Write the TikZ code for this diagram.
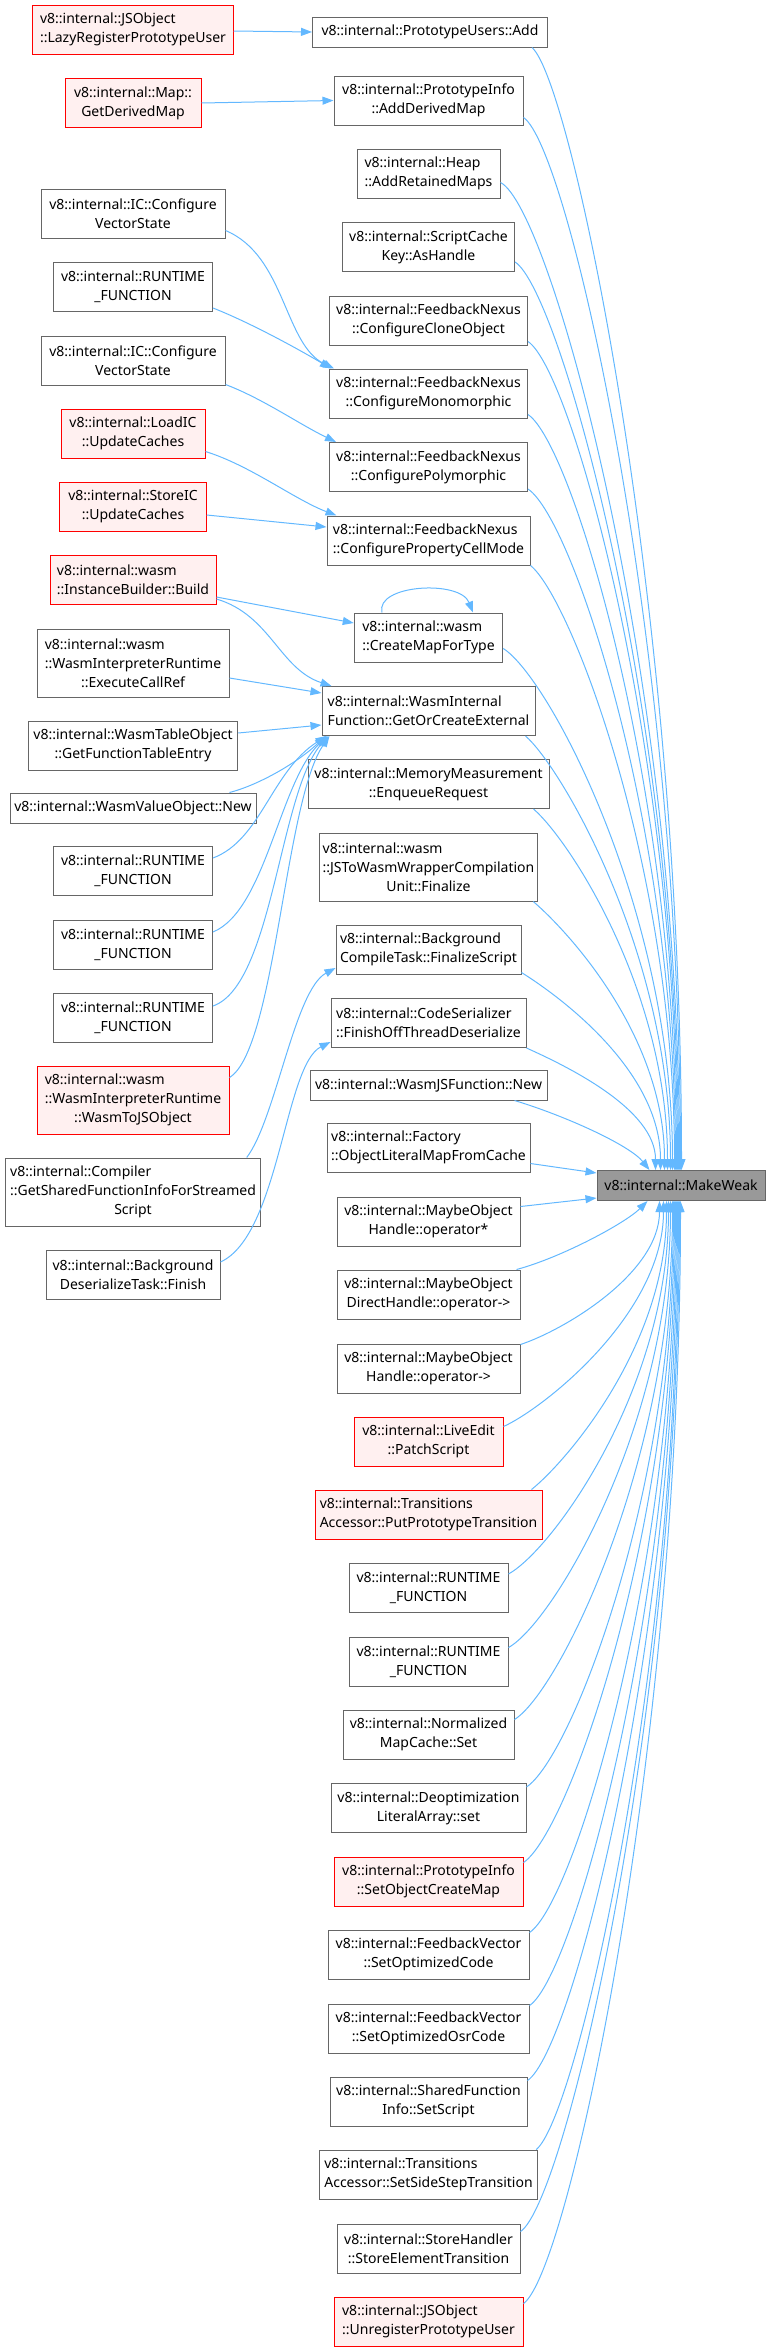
\documentclass[tikz,border=0pt]{standalone}
\usepackage{fontspec}
\setmainfont{Noto Sans}
\usetikzlibrary{arrows.meta,calc}
\definecolor{edgeblue}{HTML}{63B8FF}
\definecolor{boxgray}{HTML}{666666}
\definecolor{rootfill}{HTML}{999999}
\definecolor{redfill}{HTML}{FFF0F0}
\tikzset{
  box/.style={draw=boxgray, fill=white, line width=1pt, inner sep=0pt, align=center,
    font=\fontsize{14}{19}\selectfont},
  hl/.style={box, draw=red, fill=redfill},
  root/.style={box, fill=rootfill},
  lft/.style={align=left},
  wh/.style 2 args={minimum width=#1pt, minimum height=#2pt},
  edge/.style={draw=edgeblue, line width=1pt, -{Triangle[length=11pt,width=8pt]}},
}
\newcommand\mwe[3]{\draw[edge] let \p1=(#1), \p2=(#2), \n1={0.5*(\y1-\y2)} in (\p1) .. controls +(#3) and +(0,\n1) .. (\p2);}
\begin{document}
\begin{tikzpicture}[x=1pt,y=1pt]
\useasboundingbox (0,0) rectangle (771,-2351);
% ---------------- middle column
\node[box,wh={235}{30}] (add) at (430,-32) {v8::internal::PrototypeUsers::Add};
\node[box,wh={189}{49}] (adm) at (428.5,-100.5) {v8::internal::PrototypeInfo\\::AddDerivedMap};
\node[box,lft,wh={143}{49}] (heap) at (428.5,-173.5) {v8::internal::Heap\\::AddRetainedMaps};
\node[box,wh={172}{49}] (sck) at (428.5,-247) {v8::internal::ScriptCache\\Key::AsHandle};
\node[box,wh={198}{49}] (clone) at (428.5,-320.5) {v8::internal::FeedbackNexus\\::ConfigureCloneObject};
\node[box,wh={198}{49}] (mono) at (428.5,-393.5) {v8::internal::FeedbackNexus\\::ConfigureMonomorphic};
\node[box,wh={198}{49}] (poly) at (428.5,-467) {v8::internal::FeedbackNexus\\::ConfigurePolymorphic};
\node[box,lft,wh={203}{49}] (pcm) at (428.5,-540.5) {v8::internal::FeedbackNexus\\::ConfigurePropertyCellMode};
\node[box,lft,wh={148.5}{49}] (cmft) at (428.5,-637.5) {v8::internal::wasm\\::CreateMapForType};
\node[box,lft,wh={213}{49}] (goce) at (428.5,-711) {v8::internal::WasmInternal\\Function::GetOrCreateExternal};
\node[box,wh={241}{49}] (mm) at (428.5,-784) {v8::internal::MemoryMeasurement\\::EnqueueRequest};
\node[box,wh={218.5}{68}] (jstw) at (428.5,-867) {\rlap{v8::internal::wasm}\phantom{::JSToWasmWrapperCompilation}\\::JSToWasmWrapperCompilation\\Unit::Finalize};
\node[box,lft,wh={185}{49}] (bcfs) at (428.5,-949.5) {v8::internal::Background\\CompileTask::FinalizeScript};
\node[box,lft,wh={195}{49}] (cs) at (428.5,-1023) {v8::internal::CodeSerializer\\::FinishOffThreadDeserialize};
\node[box,wh={237}{30}] (wjs) at (428.5,-1085) {v8::internal::WasmJSFunction::New};
\node[box,lft,wh={203}{49}] (fac) at (428.5,-1147.5) {v8::internal::Factory\\::ObjectLiteralMapFromCache};
\node[box,wh={183}{49}] (moh1) at (428.5,-1221.5) {v8::internal::MaybeObject\\Handle::operator*};
\node[box,wh={183}{49}] (modh) at (428.5,-1294.5) {v8::internal::MaybeObject\\DirectHandle::operator->};
\node[box,wh={183}{49}] (moh2) at (428.5,-1368.5) {v8::internal::MaybeObject\\Handle::operator->};
\node[hl,wh={149}{49}] (le) at (428.5,-1441.5) {v8::internal::LiveEdit\\::PatchScript};
\node[hl,lft,wh={227}{49}] (ppt) at (428.5,-1514.5) {v8::internal::Transitions\\Accessor::PutPrototypeTransition};
\node[box,wh={159}{49}] (rfE) at (428.5,-1588) {v8::internal::RUNTIME\\\_FUNCTION};
\node[box,wh={159}{49}] (rfF) at (428.5,-1661.5) {v8::internal::RUNTIME\\\_FUNCTION};
\node[box,wh={171}{49}] (nmc) at (428.5,-1734.5) {v8::internal::Normalized\\MapCache::Set};
\node[box,wh={195}{49}] (dla) at (428.5,-1808) {v8::internal::Deoptimization\\LiteralArray::set};
\node[hl,wh={189}{49}] (socm) at (428.5,-1881.5) {v8::internal::PrototypeInfo\\::SetObjectCreateMap};
\node[box,wh={201}{49}] (soc) at (428.5,-1954.5) {v8::internal::FeedbackVector\\::SetOptimizedCode};
\node[box,wh={201}{49}] (sooc) at (428.5,-2028.5) {v8::internal::FeedbackVector\\::SetOptimizedOsrCode};
\node[box,wh={197}{49}] (ss) at (428.5,-2101.5) {v8::internal::SharedFunction\\Info::SetScript};
\node[box,lft,wh={218.5}{49}] (sss) at (428.5,-2174.5) {v8::internal::Transitions\\Accessor::SetSideStepTransition};
\node[box,wh={183}{49}] (set) at (428.5,-2248.5) {v8::internal::StoreHandler\\::StoreElementTransition};
\node[hl,lft,wh={189}{49}] (upu) at (428.5,-2321.5) {v8::internal::JSObject\\::UnregisterPrototypeUser};
% ---------------- root
\node[root,wh={168}{30}] (mw) at (681,-1185.5) {v8::internal::MakeWeak};
% ---------------- left column
\node[hl,lft,wh={200.5}{49}] (lazy) at (133,-29.5) {v8::internal::JSObject\\::LazyRegisterPrototypeUser};
\node[hl,wh={136}{49}] (gdm) at (133,-103) {v8::internal::Map::\\GetDerivedMap};
\node[box,wh={184}{49}] (icA) at (133,-213.5) {v8::internal::IC::Configure\\VectorState};
\node[box,wh={159}{49}] (rfA) at (133,-287) {v8::internal::RUNTIME\\\_FUNCTION};
\node[box,wh={184}{49}] (icB) at (133,-360.5) {v8::internal::IC::Configure\\VectorState};
\node[hl,wh={144}{49}] (loadic) at (133,-433.5) {v8::internal::LoadIC\\::UpdateCaches};
\node[hl,wh={146.5}{49}] (storeic) at (133,-506.5) {v8::internal::StoreIC\\::UpdateCaches};
\node[hl,lft,wh={166}{49}] (ib) at (133,-580) {v8::internal::wasm\\::InstanceBuilder::Build};
\node[box,wh={192}{68}] (ecr) at (133,-663) {\rlap{v8::internal::wasm}\phantom{::WasmInterpreterRuntime}\\::WasmInterpreterRuntime\\::ExecuteCallRef};
\node[box,wh={209.5}{49}] (gfte) at (133,-745.5) {v8::internal::WasmTableObject\\::GetFunctionTableEntry};
\node[box,wh={246}{30}] (wvo) at (133,-808) {v8::internal::WasmValueObject::New};
\node[box,wh={159}{49}] (rfB) at (133,-871) {v8::internal::RUNTIME\\\_FUNCTION};
\node[box,wh={159}{49}] (rfC) at (133,-944.5) {v8::internal::RUNTIME\\\_FUNCTION};
\node[box,wh={159}{49}] (rfD) at (133,-1017.5) {v8::internal::RUNTIME\\\_FUNCTION};
\node[hl,wh={192}{68}] (wtjs) at (133,-1100) {\rlap{v8::internal::wasm}\phantom{::WasmInterpreterRuntime}\\::WasmInterpreterRuntime\\::WasmToJSObject};
\node[box,wh={255.6}{68}] (comp) at (133,-1192) {\rlap{v8::internal::Compiler}\phantom{::GetSharedFunctionInfoForStreamed}\\::GetSharedFunctionInfoForStreamed\\Script};
\node[box,wh={174}{49}] (bdt) at (133,-1275) {v8::internal::Background\\DeserializeTask::Finish};
% ---------------- left -> middle edges
\draw[edge] ([yshift=-1.5pt]lazy.east) -- (add.west);
\draw[edge] (gdm.east) -- (adm.west);
\draw[edge] ([yshift=8pt]icA.south east) .. controls +(60,-25) and +(-50,24) .. ([xshift=5pt]mono.north west);
\draw[edge] ([yshift=4pt]rfA.south east) .. controls +(38,-15) and +(-32,19) .. ([xshift=2pt]mono.north west);
\draw[edge] ([yshift=1pt]icB.south east) .. controls +(37,-14) and +(-37,18) .. ([xshift=7pt]poly.north west);
\draw[edge] ([yshift=7pt]loadic.south east) .. controls +(45,-14) and +(-42,16) .. ([xshift=10pt]pcm.north west);
\draw[edge] ([yshift=-8.5pt]storeic.east) -- ([yshift=13.5pt]pcm.west);
\draw[edge] ([yshift=-17pt]ib.east) -- ([yshift=14.5pt]cmft.west);
\draw[edge] ([yshift=-19pt]ib.east) .. controls +(54,-16) and +(-52,17) .. ([xshift=10pt]goce.north west);
\draw[edge] ([xshift=-46.5pt]cmft.north) .. controls +(-7,28) and +(-13,33) .. ([xshift=44.5pt]cmft.north);
\draw[edge] ([yshift=-15pt]ecr.east) -- ([yshift=18pt]goce.west);
\draw[edge] ([yshift=12.5pt]gfte.east) -- ([yshift=-14pt]goce.west);
\draw[edge] ([xshift=-27pt]wvo.north east) .. controls +(31,8) and +(-26,-25) .. ([xshift=4pt]goce.south west);
\draw[edge] ([yshift=13pt]rfB.east) .. controls +(48,18) and +(-55,-35) .. ([xshift=5pt]goce.south west);
\draw[edge] ([yshift=12.5pt]rfC.east) .. controls +(53,22) and +(-48,-45) .. ([xshift=6pt]goce.south west);
\draw[edge] ([yshift=11.5pt]rfD.east) .. controls +(60,21) and +(-49,-55) .. ([xshift=7pt]goce.south west);
\draw[edge] ([yshift=-12pt]wtjs.north east) .. controls +(46,28) and +(-45,-65) .. ([xshift=8pt]goce.south west);
\draw[edge] ([xshift=-14.6pt]comp.north east) .. controls +(29,38) and +(-41,-22) .. ([yshift=-18.5pt]bcfs.west);
\draw[edge] ([yshift=13pt]bdt.east) .. controls +(59,27) and +(-46,-23) .. ([yshift=-19pt]cs.west);
% ---------------- middle -> MakeWeak (from above)
\mwe{[xshift=-16pt]add.south east}{[xshift=85pt]mw.north west}{40,-35}
\mwe{[yshift=8pt]adm.south east}{[xshift=84pt]mw.north west}{45,-30}
\mwe{[yshift=16pt]heap.south east}{[xshift=83pt]mw.north west}{50,-25}
\mwe{[yshift=10pt]sck.south east}{[xshift=82pt]mw.north west}{45,-28}
\mwe{[yshift=4pt]clone.south east}{[xshift=81pt]mw.north west}{45,-30}
\mwe{[yshift=4pt]mono.south east}{[xshift=80pt]mw.north west}{45,-30}
\mwe{[yshift=3pt]poly.south east}{[xshift=79pt]mw.north west}{45,-30}
\mwe{pcm.south east}{[xshift=78pt]mw.north west}{40,-32}
\mwe{[yshift=14pt]cmft.south east}{[xshift=76pt]mw.north west}{45,-28}
\mwe{[xshift=-10pt]goce.south east}{[xshift=74pt]mw.north west}{35,-30}
\mwe{[xshift=-16pt]mm.south east}{[xshift=71pt]mw.north west}{35,-30}
\mwe{[xshift=-5pt]jstw.south east}{[xshift=68pt]mw.north west}{35,-30}
\mwe{[yshift=2pt]bcfs.south east}{[xshift=64pt]mw.north west}{40,-25}
\mwe{cs.south east}{[xshift=59pt]mw.north west}{40,-18}
\draw[edge] ([xshift=-33pt]wjs.south east) .. controls +(50,-15) and +(-20,25) .. ([xshift=53pt]mw.north west);
\draw[edge] ([yshift=9pt]fac.south east) -- ([yshift=-3pt]mw.north west);
% ---------------- middle -> MakeWeak (from below)
\draw[edge] ([yshift=-10pt]moh1.north east) -- ([yshift=3pt]mw.south west);
\draw[edge] ([xshift=-4pt]modh.north east) .. controls +(45,12) and +(-22,-22) .. ([xshift=51pt]mw.south west);
\mwe{[yshift=-1pt]moh2.north east}{[xshift=63pt]mw.south west}{45,15}
\mwe{[yshift=-10pt]le.north east}{[xshift=67pt]mw.south west}{40,18}
\mwe{[xshift=-11pt]ppt.north east}{[xshift=70pt]mw.south west}{35,28}
\mwe{[yshift=-11pt]rfE.north east}{[xshift=72pt]mw.south west}{45,25}
\mwe{[yshift=-11pt]rfF.north east}{[xshift=74pt]mw.south west}{45,25}
\mwe{[yshift=-10pt]nmc.north east}{[xshift=76pt]mw.south west}{45,28}
\mwe{[yshift=-4pt]dla.north east}{[xshift=77pt]mw.south west}{45,30}
\mwe{[yshift=-6pt]socm.north east}{[xshift=78pt]mw.south west}{45,30}
\mwe{[yshift=-3pt]soc.north east}{[xshift=79pt]mw.south west}{45,30}
\mwe{[yshift=-2pt]sooc.north east}{[xshift=80pt]mw.south west}{45,30}
\mwe{[yshift=-4pt]ss.north east}{[xshift=81pt]mw.south west}{45,30}
\mwe{[xshift=-2pt]sss.north east}{[xshift=82pt]mw.south west}{40,32}
\mwe{[yshift=-8pt]set.north east}{[xshift=83pt]mw.south west}{45,30}
\mwe{[yshift=-7pt]upu.north east}{[xshift=84pt]mw.south west}{45,32}
\end{tikzpicture}
\end{document}
